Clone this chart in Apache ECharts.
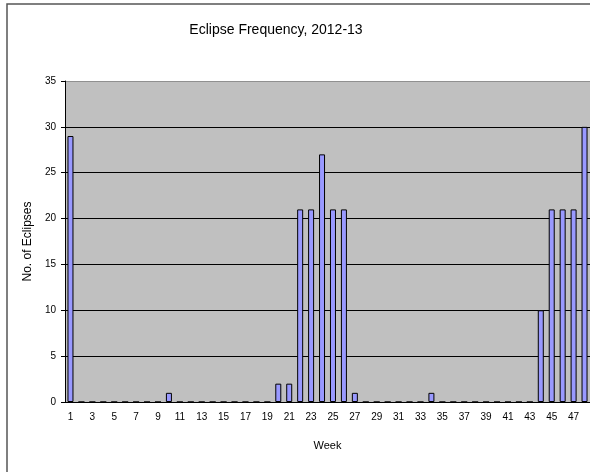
<!DOCTYPE html>
<html>
<head>
<meta charset="utf-8">
<script src="https://cdn.jsdelivr.net/npm/echarts@6/dist/echarts.min.js"></script>
<style>
  html, body { margin: 0; padding: 0; background: #fff; }
  #chart { width: 590px; height: 472px; }
</style>
</head>
<body>
<div id="chart"></div>
<script>
// weeks 1..48
const weeks = [];
for (let i = 1; i <= 48; i++) weeks.push(String(i));

const eclipses = [
  29, 0, 0, 0, 0, 0, 0, 0, 0, 1,
  0, 0, 0, 0, 0, 0, 0, 0, 0, 2,
  2, 21, 21, 27, 21, 21, 1, 0, 0, 0,
  0, 0, 0, 1, 0, 0, 0, 0, 0, 0,
  0, 0, 0, 10, 21, 21, 21, 30
];

const yTicks = { min: 0, max: 35, interval: 5 };

const font = 'Arial, "Liberation Sans", sans-serif';

const chart = echarts.init(document.getElementById('chart'));

chart.setOption({
  animation: false,
  backgroundColor: '#fff',
  textStyle: { fontFamily: font },
  title: {
    text: 'Eclipse Frequency, 2012-13',
    left: 271,
    top: 18,
    textAlign: 'center',
    textStyle: { fontSize: 14, fontWeight: 'normal', color: '#000', fontFamily: font }
  },
  graphic: [
    // chart frame, cut by the window on the right and bottom
    {
      type: 'rect',
      shape: { x: 7, y: 4, width: 600, height: 490 },
      style: { fill: null, stroke: '#555', lineWidth: 1.5 },
      z: 100
    }
  ],
  grid: {
    left: 65,
    right: -2,
    top: 81,
    bottom: 70,
    show: true,
    backgroundColor: '#c0c0c0',
    borderWidth: 0
  },
  xAxis: {
    type: 'category',
    data: weeks,
    name: 'Week',
    nameLocation: 'middle',
    nameGap: 38,
    nameTextStyle: { fontSize: 11, color: '#000' },
    axisLine: { lineStyle: { color: '#000', width: 1 } },
    axisTick: { interval: 0, length: 4, lineStyle: { color: '#000' } },
    axisLabel: { interval: 1, fontSize: 10, color: '#000', margin: 10 }
  },
  yAxis: {
    type: 'value',
    min: yTicks.min,
    max: yTicks.max,
    interval: yTicks.interval,
    name: 'No. of Eclipses',
    nameLocation: 'middle',
    nameGap: 28,
    nameTextStyle: { fontSize: 12, color: '#000' },
    axisLine: { show: true, lineStyle: { color: '#000', width: 1 } },
    axisTick: { show: true, length: 4, lineStyle: { color: '#000' } },
    axisLabel: { fontSize: 10, color: '#000', margin: 9 },
    splitLine: {
      show: true,
      lineStyle: {
        color: ['#000', '#000', '#000', '#000', '#000', '#000', '#000', '#909090'],
        width: 1.2
      }
    }
  },
  series: [
    {
      type: 'bar',
      data: eclipses,
      barWidth: 6,
      itemStyle: { color: '#9999ff', borderColor: '#000', borderWidth: 1 }
    }
  ]
});
</script>
</body>
</html>
